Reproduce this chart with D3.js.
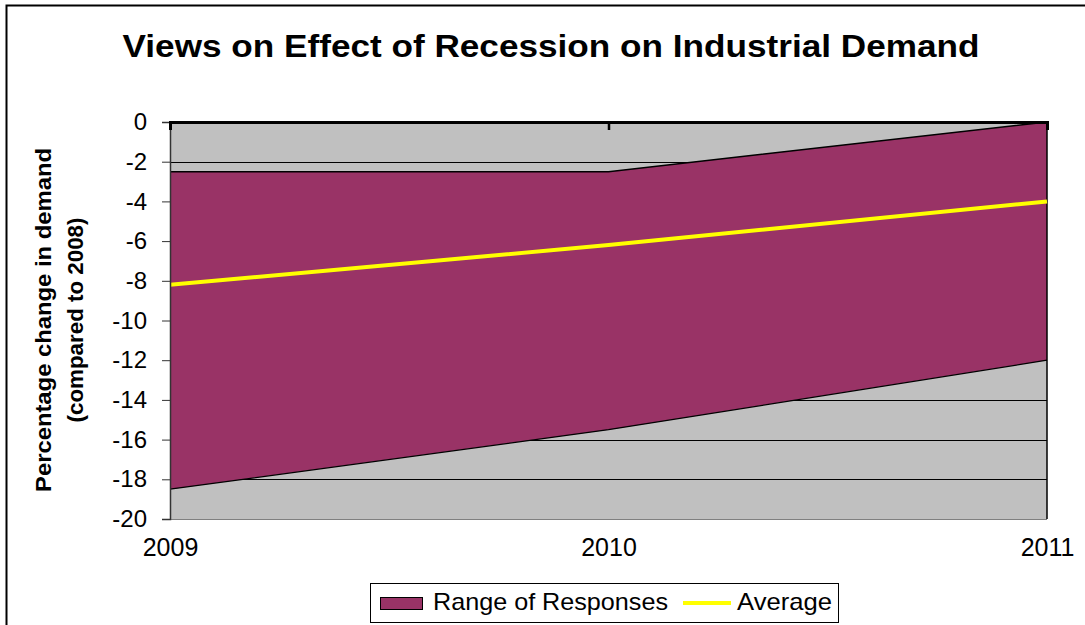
<!DOCTYPE html>
<html>
<head>
<meta charset="utf-8">
<script src="https://cdn.jsdelivr.net/npm/d3@7"></script>
<style>
  html, body { margin: 0; padding: 0; background: #fff; }
  svg { display: block; font-family: "Liberation Sans", Arial, sans-serif; }
</style>
</head>
<body>
<svg id="chart" width="1085" height="625"></svg>
<script>
// Survey years on the category axis
const years = ["2009", "2010", "2011"];
// Upper and lower bounds of the range of responses (% change vs 2008)
const rangeHigh = [-2.5, -2.5, 0];
const rangeLow = [-18.5, -15.5, -12];
// Average response per year
const average = [-8.2, -6.2, -4.0];
// Value axis ticks
const yTicks = [0, -2, -4, -6, -8, -10, -12, -14, -16, -18, -20];

const FONT = "'Liberation Sans', Arial, sans-serif";
const svg = d3.select("#chart");

// Plot area geometry
const plot = { left: 170, right: 1047, top: 122, bottom: 519 };

const x = d3.scalePoint().domain(years).range([plot.left, plot.right]);
const y = d3.scaleLinear().domain([-20, 0]).range([plot.bottom, plot.top]);

// Outer chart frame
svg.append("rect")
  .attr("x", 6.5).attr("y", 5.5)
  .attr("width", 1100).attr("height", 640)
  .attr("fill", "#fff").attr("stroke", "#000").attr("stroke-width", 2);

// Title
svg.append("text")
  .attr("x", 551).attr("y", 57)
  .attr("text-anchor", "middle")
  .attr("font-size", 31).attr("font-weight", "bold")
  .attr("textLength", 857).attr("lengthAdjust", "spacingAndGlyphs")
  .text("Views on Effect of Recession on Industrial Demand");

// Plot background
svg.append("rect")
  .attr("x", plot.left).attr("y", plot.top)
  .attr("width", plot.right - plot.left).attr("height", plot.bottom - plot.top)
  .attr("fill", "#c0c0c0");

// Horizontal gridlines
svg.append("g")
  .selectAll("line")
  .data(yTicks.filter(d => d !== 0 && d !== -20))
  .join("line")
  .attr("x1", plot.left).attr("x2", plot.right)
  .attr("y1", d => Math.round(y(d)) + 0.5).attr("y2", d => Math.round(y(d)) + 0.5)
  .attr("stroke", "#000").attr("stroke-width", 1);

// Bottom edge of the plot area
svg.append("line")
  .attr("x1", plot.left).attr("x2", plot.right)
  .attr("y1", plot.bottom + 0.5).attr("y2", plot.bottom + 0.5)
  .attr("stroke", "#808080");

// Range of responses band
const rows = years.map((yr, i) => ({ yr, lo: rangeLow[i], hi: rangeHigh[i] }));
const band = d3.area()
  .x(d => x(d.yr))
  .y0(d => y(d.lo))
  .y1(d => y(d.hi));
svg.append("path")
  .datum(rows)
  .attr("d", band)
  .attr("fill", "#993366");
svg.append("path")
  .datum(rows)
  .attr("d", d3.line().x(d => x(d.yr)).y(d => y(d.hi)))
  .attr("fill", "none").attr("stroke", "#000").attr("stroke-width", 1.5);
svg.append("path")
  .datum(rows)
  .attr("d", d3.line().x(d => x(d.yr)).y(d => y(d.lo)))
  .attr("fill", "none").attr("stroke", "#000").attr("stroke-width", 1.3);

// Right edge of the plot area
svg.append("line")
  .attr("x1", plot.right).attr("x2", plot.right)
  .attr("y1", plot.top).attr("y2", plot.bottom)
  .attr("stroke", "#000").attr("stroke-width", 1.5);

// Average line
svg.append("path")
  .datum(years.map((yr, i) => ({ yr, v: average[i] })))
  .attr("d", d3.line().x(d => x(d.yr)).y(d => y(d.v)))
  .attr("fill", "none").attr("stroke", "#ffff00").attr("stroke-width", 4);

// Value axis
const yAxis = svg.append("g")
  .attr("transform", `translate(${plot.left},0)`)
  .call(d3.axisLeft(y).tickValues(yTicks).tickSize(8).tickPadding(15).tickFormat(d => String(d)));
yAxis.select(".domain").attr("stroke", "#333").attr("stroke-width", 1.5);
yAxis.selectAll(".tick line").attr("stroke", "#333");
yAxis.selectAll("text").attr("font-size", 24).attr("fill", "#000").attr("font-family", FONT);

// Category axis line (crosses at 0) with ticks pointing into the plot
const xAxisTop = svg.append("g")
  .attr("transform", `translate(0,${y(0)})`)
  .call(d3.axisBottom(x).tickSize(8).tickFormat(""));
xAxisTop.select(".domain").attr("stroke", "#000").attr("stroke-width", 3);
xAxisTop.selectAll(".tick line").attr("stroke", "#000").attr("stroke-width", 2.5);

// Category labels below the plot
const xLabels = svg.append("g")
  .attr("transform", `translate(0,${plot.bottom})`)
  .call(d3.axisBottom(x).tickSize(0).tickPadding(19));
xLabels.select(".domain").remove();
xLabels.selectAll("text").attr("font-size", 25).attr("fill", "#000").attr("font-family", FONT);

// Value axis title
const yTitle = svg.append("text")
  .attr("transform", "translate(51,320) rotate(-90)")
  .attr("text-anchor", "middle")
  .attr("font-size", 22).attr("font-weight", "bold");
yTitle.append("tspan").attr("x", 0).attr("y", 0)
  .attr("textLength", 344).attr("lengthAdjust", "spacingAndGlyphs")
  .text("Percentage change in demand");
yTitle.append("tspan").attr("x", 0).attr("y", 32)
  .attr("textLength", 205).attr("lengthAdjust", "spacingAndGlyphs")
  .text("(compared to 2008)");

// Legend
const legend = svg.append("g");
legend.append("rect")
  .attr("x", 370.5).attr("y", 583.5).attr("width", 468).attr("height", 39)
  .attr("fill", "#fff").attr("stroke", "#000").attr("stroke-width", 1);
legend.append("rect")
  .attr("x", 380.5).attr("y", 597.5).attr("width", 42).attr("height", 12)
  .attr("fill", "#993366").attr("stroke", "#000").attr("stroke-width", 1);
legend.append("text")
  .attr("x", 433).attr("y", 610).attr("font-size", 24)
  .attr("textLength", 235).attr("lengthAdjust", "spacingAndGlyphs")
  .text("Range of Responses");
legend.append("line")
  .attr("x1", 683).attr("x2", 731).attr("y1", 603).attr("y2", 603)
  .attr("stroke", "#ffff00").attr("stroke-width", 4);
legend.append("text")
  .attr("x", 737).attr("y", 610).attr("font-size", 24)
  .attr("textLength", 95).attr("lengthAdjust", "spacingAndGlyphs")
  .text("Average");
</script>
</body>
</html>
